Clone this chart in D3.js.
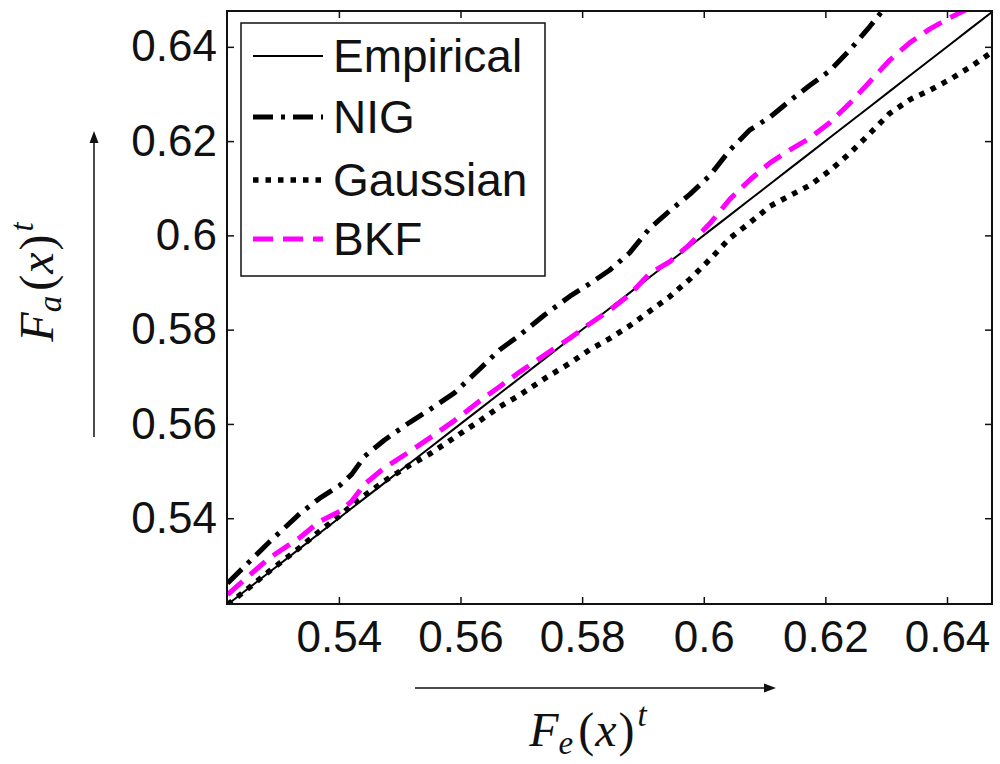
<!DOCTYPE html>
<html>
<head>
<meta charset="utf-8">
<script src="https://cdn.jsdelivr.net/npm/d3@7"></script>
<style>
  body { margin: 0; background: #fff; }
  svg { display: block; }
</style>
</head>
<body>
<svg id="chart" width="1000" height="764"></svg>
<script>
// Quantile values F_e(x)^t on the horizontal axis
const xs = [0.5217, 0.5245, 0.5286, 0.5336, 0.5368, 0.5401, 0.5421, 0.5442, 0.5475, 0.5516,
            0.5549, 0.5590, 0.5632, 0.5664, 0.5697, 0.5738, 0.5780, 0.5812, 0.5845, 0.5878,
            0.5911, 0.5944, 0.5977, 0.6010, 0.6043, 0.6076, 0.6109, 0.6141, 0.6174, 0.6207,
            0.6240, 0.6273, 0.6306, 0.6339, 0.6372, 0.6405, 0.6438, 0.6474];

// F_a(x)^t for each model at the same points
const empirical = [0.5217, 0.5245, 0.5286, 0.5336, 0.5368, 0.5401, 0.5421, 0.5442, 0.5475, 0.5516,
                   0.5549, 0.5590, 0.5632, 0.5664, 0.5697, 0.5738, 0.5780, 0.5812, 0.5845, 0.5878,
                   0.5911, 0.5944, 0.5977, 0.6010, 0.6043, 0.6076, 0.6109, 0.6141, 0.6174, 0.6207,
                   0.6240, 0.6273, 0.6306, 0.6339, 0.6372, 0.6405, 0.6438, 0.6474];
const nig = [0.5262, 0.5298, 0.5350, 0.5410, 0.5442, 0.5469, 0.5493, 0.5531, 0.5566, 0.5603,
             0.5630, 0.5666, 0.5717, 0.5757, 0.5788, 0.5831, 0.5871, 0.5897, 0.5926, 0.5963,
             0.6015, 0.6052, 0.6087, 0.6127, 0.6181, 0.6224, 0.6251, 0.6285, 0.6318, 0.6349,
             0.6393, 0.6443, 0.6496, null, null, null, null, null];
const gaussian = [0.5217, 0.5245, 0.5288, 0.5338, 0.5372, 0.5405, 0.5427, 0.5448, 0.5479, 0.5512,
                  0.5536, 0.5571, 0.5607, 0.5636, 0.5661, 0.5696, 0.5729, 0.5757, 0.5781, 0.5808,
                  0.5839, 0.5870, 0.5907, 0.5949, 0.5994, 0.6027, 0.6062, 0.6084, 0.6106, 0.6137,
                  0.6174, 0.6216, 0.6259, 0.6288, 0.6308, 0.6331, 0.6357, 0.6389];
const bkf = [0.5238, 0.5270, 0.5316, 0.5359, 0.5393, 0.5414, 0.5436, 0.5472, 0.5507, 0.5541,
             0.5570, 0.5607, 0.5649, 0.5679, 0.5710, 0.5746, 0.5782, 0.5812, 0.5841, 0.5874,
             0.5919, 0.5944, 0.5981, 0.6025, 0.6077, 0.6118, 0.6154, 0.6181, 0.6206, 0.6239,
             0.6280, 0.6326, 0.6372, 0.6409, 0.6438, 0.6462, 0.6483, null];

const tickValues = [0.54, 0.56, 0.58, 0.6, 0.62, 0.64];
const tickLabels = ["0.54", "0.56", "0.58", "0.6", "0.62", "0.64"];
const seriesNames = ["Empirical", "NIG", "Gaussian", "BKF"];

const svg = d3.select("#chart");
const box = { left: 227, right: 992, top: 11, bottom: 604 };

const x = d3.scaleLinear().domain([0.5216, 0.6474]).range([box.left, box.right]);
const y = d3.scaleLinear().domain([0.5218, 0.6476]).range([box.bottom, box.top]);

const tickFont = "'Liberation Sans', Arial, sans-serif";
const fmt = (d, i) => tickLabels[i];

// clip region for the curves
svg.append("defs").append("clipPath").attr("id", "plotClip")
  .append("rect")
  .attr("x", box.left).attr("y", box.top)
  .attr("width", box.right - box.left).attr("height", box.bottom - box.top);

// axes with inward ticks, mirrored on top and right
function styleAxis(g) {
  g.select(".domain").remove();
  g.selectAll(".tick line").attr("stroke", "#111").attr("stroke-width", 1.5);
  g.selectAll(".tick text")
    .attr("fill", "#111")
    .style("font-family", tickFont)
    .style("font-size", "44px");
}

svg.append("g")
  .attr("transform", `translate(0,${box.bottom})`)
  .call(d3.axisBottom(x).tickValues(tickValues).tickFormat(fmt)
        .tickSizeInner(-7).tickSizeOuter(0).tickPadding(17))
  .call(styleAxis);

svg.append("g")
  .attr("transform", `translate(0,${box.top})`)
  .call(d3.axisTop(x).tickValues(tickValues).tickFormat("")
        .tickSizeInner(-7).tickSizeOuter(0))
  .call(styleAxis);

svg.append("g")
  .attr("transform", `translate(${box.left},0)`)
  .call(d3.axisLeft(y).tickValues(tickValues).tickFormat(fmt)
        .tickSizeInner(-7).tickSizeOuter(0).tickPadding(10))
  .call(styleAxis);

svg.append("g")
  .attr("transform", `translate(${box.right},0)`)
  .call(d3.axisRight(y).tickValues(tickValues).tickFormat("")
        .tickSizeInner(-7).tickSizeOuter(0))
  .call(styleAxis);

// curves
const styles = {
  Empirical: { data: empirical, color: "#000", width: 2, dash: null },
  NIG:       { data: nig,       color: "#000", width: 5, dash: "20,8,4,8" },
  Gaussian:  { data: gaussian,  color: "#000", width: 5.5, dash: "5.5,7" },
  BKF:       { data: bkf,       color: "#ff00ff", width: 5, dash: "20,10" }
};

const line = d3.line()
  .defined(d => d[1] !== null)
  .x(d => x(d[0]))
  .y(d => y(d[1]));

const curves = svg.append("g").attr("clip-path", "url(#plotClip)");
["Gaussian", "Empirical", "NIG", "BKF"].forEach(name => {
  const s = styles[name];
  curves.append("path")
    .datum(xs.map((v, i) => [v, s.data[i]]))
    .attr("d", line)
    .attr("fill", "none")
    .attr("stroke", s.color)
    .attr("stroke-width", s.width)
    .attr("stroke-dasharray", s.dash)
    .attr("stroke-linejoin", "round");
});

// plot frame
svg.append("rect")
  .attr("x", box.left).attr("y", box.top)
  .attr("width", box.right - box.left).attr("height", box.bottom - box.top)
  .attr("fill", "none").attr("stroke", "#111").attr("stroke-width", 2);

// legend
const legend = svg.append("g");
legend.append("rect")
  .attr("x", 241).attr("y", 23).attr("width", 304).attr("height", 253)
  .attr("fill", "#fff").attr("stroke", "#111").attr("stroke-width", 1.5);

const rowY = [56, 117, 180, 239];
seriesNames.forEach((name, i) => {
  const s = styles[name];
  legend.append("line")
    .attr("x1", 253).attr("x2", 323)
    .attr("y1", rowY[i]).attr("y2", rowY[i])
    .attr("stroke", s.color)
    .attr("stroke-width", s.width)
    .attr("stroke-dasharray", s.dash);
  legend.append("text")
    .attr("x", 333).attr("y", rowY[i] + 16)
    .attr("fill", "#111")
    .style("font-family", tickFont)
    .style("font-size", "46px")
    .text(name);
});

// math-style axis titles
const mathFont = "'Liberation Serif', 'Times New Roman', serif";
function mathLabel(g, sub) {
  const t = g.append("text")
    .attr("text-anchor", "middle")
    .attr("fill", "#111")
    .style("font-family", mathFont)
    .style("font-size", "48px");
  t.append("tspan").style("font-style", "italic").text("F");
  t.append("tspan").style("font-style", "italic").style("font-size", "33px").attr("dy", 8).text(sub);
  t.append("tspan").attr("dy", -8).attr("dx", 5).text("(");
  t.append("tspan").style("font-style", "italic").attr("dx", 1).text("x");
  t.append("tspan").attr("dx", 2).text(")");
  t.append("tspan").style("font-style", "italic").style("font-size", "33px").attr("dy", -20).attr("dx", 3).text("t");
  return t;
}

mathLabel(svg.append("g").attr("transform", "translate(588,746)"), "e");
mathLabel(svg.append("g").attr("transform", "translate(53,282) rotate(-90)"), "a");

// direction arrows beside the axis titles
function arrow(x1, y1, x2, y2) {
  const ang = Math.atan2(y2 - y1, x2 - x1);
  const len = 12, half = 4.5;
  const bx = x2 - len * Math.cos(ang), by = y2 - len * Math.sin(ang);
  svg.append("line")
    .attr("x1", x1).attr("y1", y1).attr("x2", bx).attr("y2", by)
    .attr("stroke", "#111").attr("stroke-width", 1.5);
  const px = -Math.sin(ang) * half, py = Math.cos(ang) * half;
  svg.append("path")
    .attr("d", `M${x2},${y2}L${bx + px},${by + py}L${bx - px},${by - py}Z`)
    .attr("fill", "#111");
}
arrow(415, 688, 776, 688);
arrow(94, 437, 94, 131);
</script>
</body>
</html>
